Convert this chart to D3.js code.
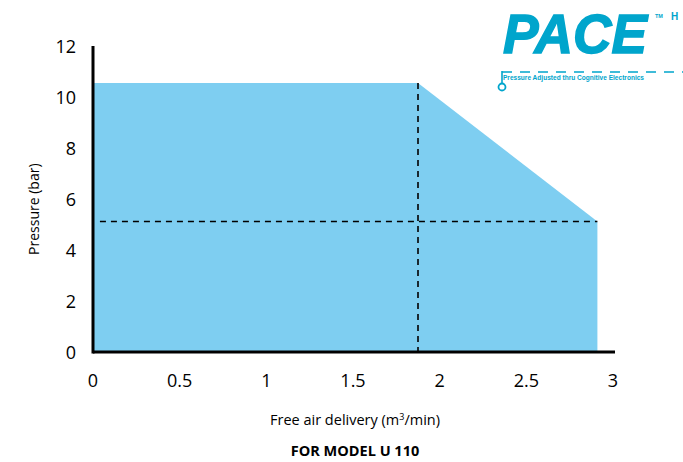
<!DOCTYPE html>
<html>
<head>
<meta charset="utf-8">
<script src="https://cdn.jsdelivr.net/npm/d3@7"></script>
<style>
  body { margin: 0; background: #fff; }
  svg { display: block; }
</style>
</head>
<body>
<div id="chart"></div>
<script>
'use strict'

// operating envelope (m3/min, bar)
var envX = [0, 1.875, 2.91, 2.91]
  , envY = [10.55, 10.55, 5.12, 0]
  , refFlow = 1.875, refPressure = 5.12
  , xTicks = [0, 0.5, 1, 1.5, 2, 2.5, 3]
  , xTickLabels = ['0', '0.5', '1', '1.5', '2', '2.5', '3']
  , yTicks = [0, 2, 4, 6, 8, 10, 12]

var W = 683, H = 462
  , m = { left: 93, right: 70, top: 46, bottom: 110 }
  , svg = d3.select('#chart').append('svg').attr('width', W).attr('height', H)
  , x = d3.scaleLinear().domain([0, 3]).range([m.left, W - m.right])
  , y = d3.scaleLinear().domain([0, 12]).range([H - m.bottom, m.top])
  , teal = '#00a5cc'

var pts = [[0, 0]].concat(envX.map(function(d, i){ return [d, envY[i]] }))
svg.append('path')
  .attr('d', d3.line().x(function(d){ return x(d[0]) }).y(function(d){ return y(d[1]) })(pts) + 'Z')
  .attr('fill', '#7ecef1')

// dashed reference lines
svg.append('line')
  .attr('x1', x(0.04)).attr('x2', x(envX[2]))
  .attr('y1', y(refPressure)).attr('y2', y(refPressure))
  .attr('stroke', '#000').attr('stroke-width', 1.6).attr('stroke-dasharray', '6,5')
svg.append('line')
  .attr('x1', x(refFlow)).attr('x2', x(refFlow))
  .attr('y1', y(envY[0])).attr('y2', y(0))
  .attr('stroke', '#000').attr('stroke-width', 1.6).attr('stroke-dasharray', '6,5')

// axes
var font = '"Open Sans", sans-serif'
svg.append('line').attr('x1', x(0)).attr('x2', x(3) + 2)
  .attr('y1', y(0)).attr('y2', y(0)).attr('stroke', '#000').attr('stroke-width', 3)
svg.append('line').attr('x1', x(0)).attr('x2', x(0))
  .attr('y1', y(12)).attr('y2', y(0) + 1.5).attr('stroke', '#000').attr('stroke-width', 3)

svg.selectAll('text.xt').data(xTicks).enter().append('text')
  .attr('class', 'xt')
  .attr('x', function(d){ return x(d) }).attr('y', y(0) + 35)
  .attr('text-anchor', 'middle').attr('font-family', font).attr('font-size', 18)
  .text(function(d, i){ return xTickLabels[i] })

svg.selectAll('text.yt').data(yTicks).enter().append('text')
  .attr('class', 'yt')
  .attr('x', 76).attr('y', function(d){ return y(d) + 7 })
  .attr('text-anchor', 'end').attr('font-family', font).attr('font-size', 18)
  .text(function(d){ return d })

svg.append('text')
  .attr('transform', 'translate(39,' + y(5.6) + ') rotate(-90)')
  .attr('text-anchor', 'middle').attr('font-family', font).attr('font-size', 14)
  .text('Pressure (bar)')

var t = svg.append('text')
  .attr('x', 355).attr('y', 425)
  .attr('text-anchor', 'middle').attr('font-family', font).attr('font-size', 14.5)
t.append('tspan').text('Free air delivery (m')
t.append('tspan').attr('font-size', 9).attr('dy', -5).text('3')
t.append('tspan').attr('dy', 5).text('/min)')

svg.append('text')
  .attr('x', 355).attr('y', 456)
  .attr('text-anchor', 'middle').attr('font-family', font).attr('font-size', 14.5)
  .attr('font-weight', 'bold')
  .text('FOR MODEL U 110')

// PACE logo
var logo = svg.append('g')
logo.append('text')
  .attr('x', 503).attr('y', 53)
  .attr('font-family', '"Liberation Sans", Arial, sans-serif')
  .attr('font-weight', 'bold').attr('font-style', 'italic').attr('font-size', 56)
  .attr('textLength', 144).attr('lengthAdjust', 'spacingAndGlyphs')
  .attr('fill', teal).attr('stroke', teal).attr('stroke-width', 1.5)
  .text('PACE')
logo.append('text')
  .attr('x', 655).attr('y', 18)
  .attr('font-family', '"Liberation Sans", Arial, sans-serif')
  .attr('font-weight', 'bold').attr('font-size', 5.5).attr('fill', teal).text('TM')
logo.append('text')
  .attr('x', 671).attr('y', 20)
  .attr('font-family', '"Liberation Sans", Arial, sans-serif')
  .attr('font-weight', 'bold').attr('font-size', 10).attr('fill', teal).text('H')
logo.append('line')
  .attr('x1', 502).attr('x2', W).attr('y1', 72).attr('y2', 72)
  .attr('stroke', teal).attr('stroke-width', 1.6).attr('stroke-dasharray', '10,8')
logo.append('line')
  .attr('x1', 502).attr('x2', 502).attr('y1', 71).attr('y2', 84)
  .attr('stroke', teal).attr('stroke-width', 1.6)
logo.append('circle')
  .attr('cx', 502).attr('cy', 87).attr('r', 3.5)
  .attr('fill', '#fff').attr('stroke', teal).attr('stroke-width', 1.8)
logo.append('text')
  .attr('x', 503).attr('y', 79.5)
  .attr('font-family', '"Liberation Sans Narrow", "Liberation Sans", sans-serif')
  .attr('font-weight', 'bold').attr('font-size', 7.5)
  .attr('textLength', 141).attr('lengthAdjust', 'spacingAndGlyphs')
  .attr('fill', teal).text('Pressure Adjusted thru Cognitive Electronics')
</script>
</body>
</html>
